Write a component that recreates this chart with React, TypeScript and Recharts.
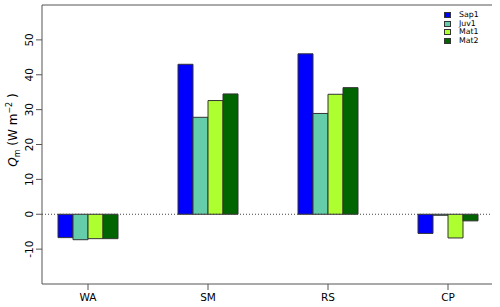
import React from 'react';
import {
    BarChart,
    Bar,
    XAxis,
    YAxis,
    ReferenceLine,
} from "recharts";

const sites = ['WA', 'SM', 'RS', 'CP'];
const sap1 = [-6.7, 43.0, 46.0, -5.5];
const juv1 = [-7.3, 27.8, 28.9, -0.3];
const mat1 = [-7.0, 32.6, 34.4, -6.8];
const mat2 = [-7.0, 34.5, 36.3, -1.9];
const yTicks = [-10, 0, 10, 20, 30, 40, 50];

const seriesNames = ['Sap1', 'Juv1', 'Mat1', 'Mat2'];
const seriesColors = ['#0000ff', '#66cdaa', '#adff2f', '#006400'];

const chartData = sites.map((site, i) => ({
    site,
    Sap1: sap1[i],
    Juv1: juv1[i],
    Mat1: mat1[i],
    Mat2: mat2[i],
}));

const FONT = '"DejaVu Sans", Verdana, sans-serif';
const BOX = '#555555';

// y tick labels are drawn rotated, R style
const YTick = (props: any) => {
    const { x, y, payload } = props;
    const bx = x - 1;
    return (
        <text
            x={bx}
            y={y}
            transform={`rotate(-90, ${bx}, ${y})`}
            textAnchor="middle"
            fontSize={10.5}
            fontFamily={FONT}
            fill="#000"
        >
            {payload.value}
        </text>
    );
};

const YLabel = () => (
    <text
        x={17}
        y={130}
        transform="rotate(-90, 17, 130)"
        textAnchor="middle"
        fontSize={12}
        fontFamily={FONT}
        fill="#000"
    >
        <tspan fontStyle="italic">Q</tspan>
        <tspan fontSize={8} dy={3}>m</tspan>
        <tspan dy={-3}>{'  (W  m'}</tspan>
        <tspan fontSize={8} dy={-5}>{'\u22122'}</tspan>
        <tspan dy={5}>{' )'}</tspan>
    </text>
);

export default function App() {
    return (
        <div style={{ position: 'absolute', left: 0, top: 0, width: 500, height: 307, background: '#fff' }}>
            <BarChart
                width={500}
                height={307}
                data={chartData}
                margin={{ top: 5, right: 8, bottom: 0, left: 0 }}
                barCategoryGap="25%"
                barGap={0}
            >
                <XAxis
                    dataKey="site"
                    height={23}
                    padding={{ left: -14, right: -16 }}
                    stroke={BOX}
                    tickSize={6}
                    tickMargin={4}
                    tick={{ fontSize: 10.5, fontFamily: FONT, fill: '#000' }}
                    interval={0}
                />
                <YAxis
                    width={42}
                    domain={[-20, 60]}
                    ticks={yTicks}
                    allowDataOverflow
                    stroke={BOX}
                    tickSize={6}
                    tick={<YTick />}
                    label={<YLabel />}
                />
                <YAxis
                    yAxisId="right"
                    orientation="right"
                    width={0}
                    domain={[-20, 60]}
                    tick={false}
                    tickLine={false}
                    stroke={BOX}
                />
                {/* top edge of the box */}
                <ReferenceLine y={60} stroke={BOX} />
                <ReferenceLine y={0} stroke="#444" strokeDasharray="1 2" />
                {seriesNames.map((name, i) => (
                    <Bar
                        key={name}
                        dataKey={name}
                        fill={seriesColors[i]}
                        stroke="#333"
                        strokeWidth={1}
                        isAnimationActive={false}
                    />
                ))}
            </BarChart>

            {/* legend, top right corner */}
            {seriesNames.map((name, i) => (
                <div key={name} style={{
                    position: 'absolute',
                    left: 444,
                    top: 11 + i * 8.5,
                    height: 8,
                    display: 'flex',
                    alignItems: 'center',
                    fontFamily: FONT,
                    fontSize: 7.8,
                    lineHeight: '8px',
                }}>
                    <span style={{
                        display: 'inline-block',
                        width: 5,
                        height: 4,
                        background: seriesColors[i],
                        border: '1px solid #333',
                        marginRight: 8,
                    }} />
                    <span>{name}</span>
                </div>
            ))}
        </div>
    );
}
